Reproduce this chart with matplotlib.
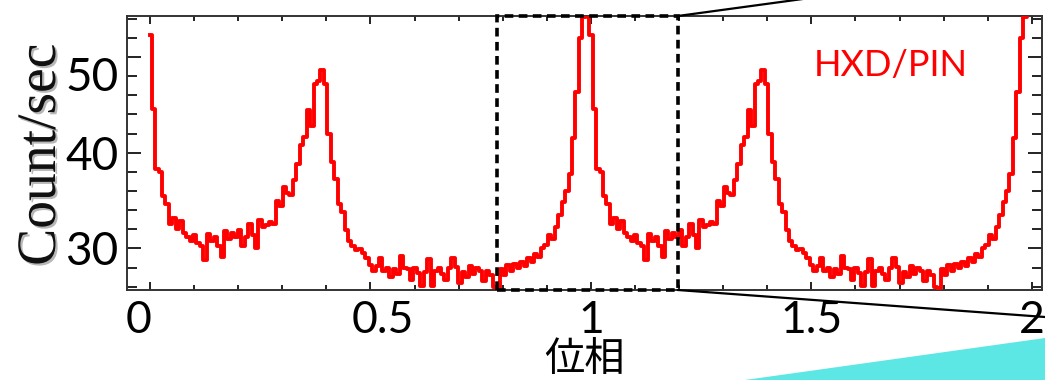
import numpy as np
import matplotlib
matplotlib.use("Agg")
import matplotlib.pyplot as plt
from matplotlib.patches import Rectangle, Polygon, ConnectionPatch
from matplotlib.ticker import FixedLocator, MultipleLocator
from matplotlib import patheffects, transforms

# HXD/PIN pulse profile, one cycle of 128 phase bins (count/sec), shown twice
n_bins = 128
counts = [
    52.3, 44.6, 38.3, 38.0, 35.5, 34.6, 32.6, 33.2, 32.0, 32.9,
    31.6, 31.2, 30.8, 31.4, 30.6, 30.2, 28.8, 31.5, 30.8, 31.2,
    30.3, 29.1, 31.8, 31.0, 31.6, 31.2, 31.9, 30.2, 31.2, 32.6,
    31.4, 30.0, 33.0, 32.2, 32.4, 32.8, 32.6, 35.0, 34.4, 36.4,
    35.8, 35.6, 37.2, 38.8, 40.8, 41.6, 44.5, 42.8, 47.2, 47.5,
    48.6, 47.2, 42.0, 39.0, 37.3, 34.6, 33.8, 31.9, 30.8, 30.2,
    29.8, 29.9, 29.5, 29.0, 28.3, 27.6, 28.2, 29.0, 27.6, 28.0,
    27.0, 27.8, 27.3, 29.2, 28.0, 27.8, 26.7, 27.9, 27.4, 26.1,
    27.5, 28.9, 26.1, 27.6, 28.0, 27.3, 26.7, 27.9, 29.0, 28.1,
    26.4, 27.5, 27.0, 28.2, 27.3, 27.9, 27.6, 26.6, 27.6, 27.2,
    26.0, 25.9, 27.8, 27.2, 28.3, 27.6, 28.4, 27.9, 28.6, 28.2,
    29.0, 28.6, 29.4, 29.1, 30.0, 30.4, 31.4, 31.0, 32.2, 33.5,
    34.8, 36.0, 37.8, 41.5, 46.3, 52.0, 54.2, 54.8,
]
n_cycles = 2

x_ticks = [0, 0.5, 1, 1.5, 2]
x_tick_labels = ["0", "0.5", "1", "1.5", "2"]
y_ticks = [30, 40, 50]
y_tick_labels = ["30", "40", "50"]

zoom_box = (0.787, 1.197)  # phase range of the dashed box
x_range = (-0.052, 2.023)
y_range = (25.65, 54.29)

W, H = 1045, 380
fig = plt.figure(figsize=(W / 100, H / 100), dpi=100)
ax = fig.add_axes([127 / W, 1 - 290 / H, (1042 - 127) / W, (290 - 16) / H])

phase = np.arange(n_bins * n_cycles) / n_bins
rate = np.tile(counts, n_cycles)
ax.plot(phase, rate, color="#ff0000", lw=2.8, drawstyle="steps-mid",
        solid_joinstyle="round", zorder=3)

ax.set_xlim(*x_range)
ax.set_ylim(*y_range)

num_font = ["Liberation Sans Narrow", "Lato", "DejaVu Sans"]
ax.xaxis.set_major_locator(FixedLocator(x_ticks))
ax.xaxis.set_minor_locator(MultipleLocator(0.1))
ax.yaxis.set_major_locator(FixedLocator(y_ticks))
ax.yaxis.set_minor_locator(MultipleLocator(2))
ax.set_xticklabels(x_tick_labels, family=num_font, fontsize=32)
ax.set_yticklabels(y_tick_labels, family=num_font, fontsize=33)
ax.tick_params(which="both", direction="in", top=True, right=True, width=1.4, color="#222222")
ax.tick_params(axis="x", which="major", length=6, pad=7)
ax.tick_params(axis="x", which="minor", length=3.5)
ax.tick_params(axis="y", which="major", length=10, pad=6)
ax.tick_params(axis="y", which="minor", length=7.5)
for s in ax.spines.values():
    s.set_linewidth(1.4)
    s.set_color("#333333")

# labels on the slide sit a little off their ticks
label_shift = {"50": (0, -17), "0": (-11, 0), "0.5": (12, 0)}
fig.canvas.draw()
for lab in ax.get_xticklabels() + ax.get_yticklabels():
    dx, dy = label_shift.get(lab.get_text(), (0, 0))
    if dx or dy:
        off = transforms.ScaledTranslation(dx / 100, dy / 100, fig.dpi_scale_trans)
        lab.set_transform(lab.get_transform() + off)

# dashed zoom box and connector lines
y0, y1 = y_range
box = Rectangle((zoom_box[0], y0), zoom_box[1] - zoom_box[0], y1 - y0,
                fill=False, ec="black", lw=2.6, ls=(0, (2.4, 1.5)), zorder=5, clip_on=False)
ax.add_patch(box)
for yc, far in [(y1, (810 / W, 1 + 2 / H)), (y0, (1.0, 1 - 317 / H))]:
    con = ConnectionPatch(xyA=(zoom_box[1], yc), coordsA=ax.transData,
                          xyB=far, coordsB=fig.transFigure, color="black", lw=1.6)
    fig.add_artist(con)

# cyan decoration in the slide corner
fig.add_artist(Polygon([(745 / W, 0), (1, 1 - 338 / H), (1, 0)], closed=True,
                       transform=fig.transFigure, fc="#5ce6e4", ec="none"))

fig.text(891 / W, 1 - 65 / H, "HXD/PIN", color="#ff0000", fontsize=26,
         family=["Lato", "DejaVu Sans"], ha="center", va="center")
fig.text(41 / W, 1 - 155 / H, "Count/sec", rotation=90, fontsize=40,
         family=["Liberation Serif", "DejaVu Serif"], color="#111111",
         ha="center", va="center",
         path_effects=[patheffects.withSimplePatchShadow(offset=(1.5, -1.5), shadow_rgbFace="#888888", alpha=0.6)])
fig.text(584 / W, 1 - 360 / H, "位相", fontsize=29,
         family=["Noto Sans CJK JP", "DejaVu Sans"], ha="center", va="center")

fig.savefig("out.png", dpi=100)
